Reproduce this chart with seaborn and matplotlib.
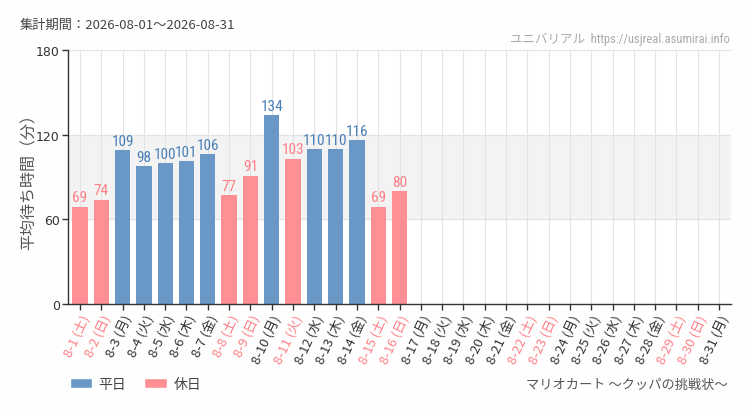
import matplotlib
matplotlib.use("Agg")
import matplotlib.pyplot as plt
import seaborn as sns
import pandas as pd
import numpy as np
from matplotlib.patches import Patch

days = [f"8-{d}" for d in range(1, 32)]
weekdays = ["土", "日", "月", "火", "水", "木", "金"] * 5
weekdays = weekdays[:31]
holiday_flags = [1, 1, 0, 0, 0, 0, 0, 1, 1, 0, 1, 0, 0, 0, 1, 1,
                 0, 0, 0, 0, 0, 1, 1, 0, 0, 0, 0, 0, 1, 1, 0]
wait_values = [69, 74, 109, 98, 100, 101, 106, 77, 91, 134, 103, 110, 110, 116, 69, 80] + [np.nan] * 15

labels = [f"{d} ({w})" for d, w in zip(days, weekdays)]
types = ["休日" if h else "平日" for h in holiday_flags]

BLUE = "#6a98c6"
PINK = "#ff8f94"
BLUE_TXT = "#4a7fb8"
PINK_TXT = "#ff7f86"
NARROW = ["Roboto Condensed", "Liberation Sans Narrow", "Open Sans Condensed", "Roboto"]

sns.set_theme(style="white")
plt.rcParams['font.family'] = ['Noto Sans CJK JP', 'DejaVu Sans']

df = pd.DataFrame({"label": labels, "value": wait_values, "type": types})

fig = plt.figure(figsize=(7.5, 4.1), dpi=100)
fig.patch.set_facecolor("#fdfefd")
ax = fig.add_axes([0.0907, 0.256, 0.884, 0.62])
ax.set_facecolor("white")

ax.axhspan(60, 120, color="#f3f3f3", zorder=0)
for i in range(len(labels)):
    ax.axvline(i, color="#e3e3e3", lw=0.8, zorder=0.5)
for yv in [60, 120, 180]:
    ax.axhline(yv, color="#e3e3e3", lw=0.8, zorder=0.5)

sns.barplot(data=df, x="label", y="value", hue="type", order=labels,
            hue_order=["平日", "休日"], palette={"平日": BLUE, "休日": PINK},
            dodge=False, width=0.72, ax=ax, legend=False, zorder=2, saturation=1,
            edgecolor="none")

for i, (v, t) in enumerate(zip(wait_values, types)):
    if not np.isnan(v):
        ax.text(i, v + 1.5, f"{int(v)}", ha="center", va="bottom",
                fontsize=11, color=PINK_TXT if t == "休日" else BLUE_TXT,
                family=NARROW, zorder=3)

ax.set_xlim(-0.56, 30.56)
ax.set_ylim(0, 180)
ax.set_yticks([0, 60, 120, 180])
ax.set_yticklabels(["0", "60", "120", "180"], fontsize=9, color="#333333",
                   family=["DejaVu Sans"])
ax.set_xticks(range(len(labels)))
ax.set_xticklabels(labels, rotation=65, ha="right", rotation_mode="anchor", fontsize=9.5)
for tl, t in zip(ax.get_xticklabels(), types):
    tl.set_color(PINK_TXT if t == "休日" else "#333333")
ax.tick_params(axis="both", which="both", length=4, width=1, color="#333333",
               bottom=True, left=True, pad=2)
ax.set_xlabel("")
ax.set_ylabel("平均待ち時間（分）", fontsize=11.5, color="#555555")
ax.yaxis.set_label_coords(-0.046, 0.5)

for s in ["top", "right"]:
    ax.spines[s].set_visible(False)
for s in ["left", "bottom"]:
    ax.spines[s].set_color("#333333")
    ax.spines[s].set_linewidth(1)

fig.text(20 / 750, 1 - 25 / 410, "集計期間：2026-08-01～2026-08-31", fontsize=9.5,
         color="#444444", va="center", ha="left")
fig.text(730 / 750, 1 - 39 / 410, "ユニバリアル  https://usjreal.asumirai.info", fontsize=9,
         color="#aaaaaa", va="center", ha="right",
         family=["Roboto Condensed", "Liberation Sans Narrow", "Noto Sans CJK JP", "DejaVu Sans"])
fig.text(728 / 750, 1 - 385 / 410, "マリオカート ～クッパの挑戦状～", fontsize=9.5,
         color="#555555", va="center", ha="right")

handles = [Patch(facecolor=BLUE, label="平日"), Patch(facecolor=PINK, label="休日")]
fig.legend(handles=handles, loc="center left", bbox_to_anchor=(57 / 750, 1 - 385 / 410),
           ncol=2, frameon=False, fontsize=10, handlelength=1.6, handleheight=0.8,
           columnspacing=1.3, handletextpad=0.5, labelcolor="#444444")

fig.savefig("out.png", dpi=100, facecolor=fig.get_facecolor())
